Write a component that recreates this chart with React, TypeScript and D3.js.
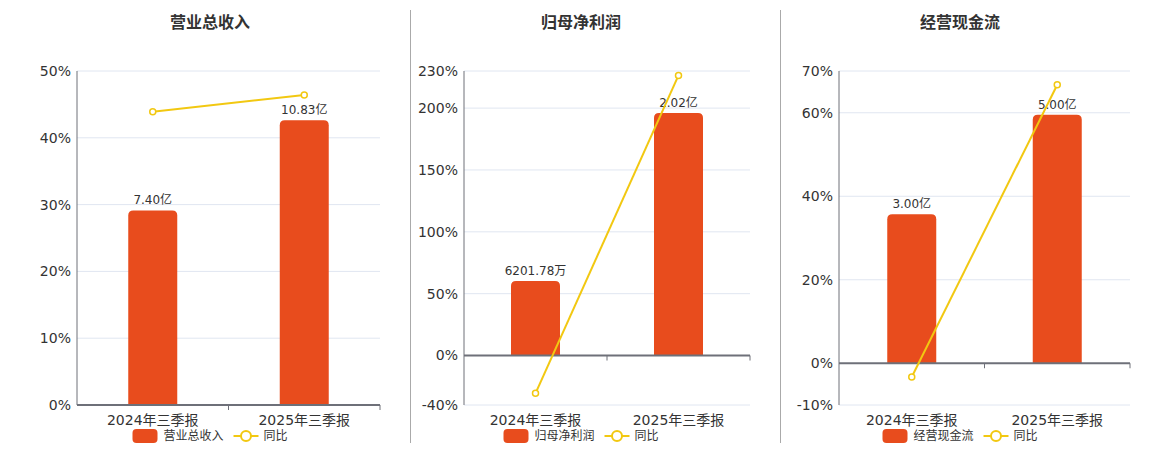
import React from 'react';
import * as d3 from 'd3';

// categories shared by all three panels
const categories = ['2024年三季报', '2025年三季报'];

// 营业总收入 (亿)
const revenueValues = [7.4, 10.83];
const revenueLabels = ['7.40亿', '10.83亿'];
const revenueYoy = [43.9, 46.4];
const revenueTicks = [0, 10, 20, 30, 40, 50];

// 归母净利润 (万)
const profitValues = [6201.78, 20200];
const profitLabels = ['6201.78万', '2.02亿'];
const profitYoy = [-30.6, 226.4];
const profitTicks = [-40, 0, 50, 100, 150, 200, 230];

// 经营现金流 (亿)
const cashValues = [3.0, 5.0];
const cashLabels = ['3.00亿', '5.00亿'];
const cashYoy = [-3.3, 66.7];
const cashTicks = [-10, 0, 20, 40, 60, 70];

const BAR_COLOR = '#E84C1D';
const LINE_COLOR = '#F2C811';
const GRID_COLOR = '#E0E6F1';
const AXIS_COLOR = '#6E7079';
const TEXT_COLOR = '#333';
const FONT = '"DejaVu Sans", "Noto Sans CJK SC", sans-serif';

interface PanelProps {
  title: string;
  values: number[];
  labels: string[];
  yoy: number[];
  ticks: number[];
  barMax: number;
  left: number;
  right: number;
  center: number;
}

const top = 71;
const bottom = 405;
const barWidth = 49;

// bar with rounded top corners
const barPath = (x: number, y: number, w: number, h: number, r: number) => {
  const rr = Math.min(r, h);
  return `M${x},${y + h}V${y + rr}Q${x},${y} ${x + rr},${y}H${x + w - rr}Q${x + w},${y} ${x + w},${y + rr}V${y + h}Z`;
};

const Panel: React.FC<PanelProps> = ({ title, values, labels, yoy, ticks, barMax, left, right, center }) => {
  const y = d3.scaleLinear()
    .domain([ticks[0], ticks[ticks.length - 1]])
    .range([bottom, top]);
  const zeroY = y(0);
  const yBar = d3.scaleLinear().domain([0, barMax]).range([zeroY, top]);
  const x = d3.scaleBand<string>().domain(categories).range([left, right]);
  const cx = (c: string) => (x(c) as number) + x.bandwidth() / 2;

  const line = d3.line<number>()
    .x((_, i) => cx(categories[i]))
    .y(d => y(d));

  const seriesName = title;
  // legend layout
  const nameWidth = seriesName.length * 12;
  const legendWidth = 25 + 6 + nameWidth + 10 + 25 + 5 + 24;
  const lx = center - legendWidth / 2;
  const ly = 436;

  return (
    <g fontFamily={FONT}>
      <text x={center} y={28} textAnchor="middle" fontSize={16} fontWeight="bold" fill={TEXT_COLOR}>{title}</text>

      {ticks.map(t => (
        <g key={t}>
          {t !== 0 && (
            <line x1={left} x2={right} y1={y(t)} y2={y(t)} stroke={GRID_COLOR} strokeWidth={1} />
          )}
          <text x={left - 6} y={y(t)} dy="0.35em" textAnchor="end" fontSize={14} fill={TEXT_COLOR}>{t}%</text>
        </g>
      ))}

      <line x1={left} x2={left} y1={top} y2={bottom} stroke={AXIS_COLOR} strokeWidth={1} />

      {values.map((v, i) => {
        const c = categories[i];
        const yt = yBar(v);
        return (
          <g key={c}>
            <path d={barPath(cx(c) - barWidth / 2, yt, barWidth, zeroY - yt, 5)} fill={BAR_COLOR} />
            <text x={cx(c)} y={yt - 6} textAnchor="middle" fontSize={12} fill={TEXT_COLOR}>{labels[i]}</text>
          </g>
        );
      })}

      <line x1={left} x2={right} y1={zeroY} y2={zeroY} stroke={AXIS_COLOR} strokeWidth={2} />
      {categories.map(c => (
        <line key={c} x1={(x(c) as number) + x.bandwidth()} x2={(x(c) as number) + x.bandwidth()}
          y1={zeroY} y2={zeroY + 5} stroke={AXIS_COLOR} strokeWidth={1} />
      ))}
      {categories.map(c => (
        <text key={c} x={cx(c)} y={425} textAnchor="middle" fontSize={14} fill={TEXT_COLOR}>{c}</text>
      ))}

      <path d={line(yoy) as string} fill="none" stroke={LINE_COLOR} strokeWidth={2} />
      {yoy.map((v, i) => (
        <circle key={i} cx={cx(categories[i])} cy={y(v)} r={3} fill="#fff" stroke={LINE_COLOR} strokeWidth={1.5} />
      ))}

      <g>
        <rect x={lx} y={ly - 7} width={25} height={14} rx={4} fill={BAR_COLOR} />
        <text x={lx + 31} y={ly} dy="0.35em" fontSize={12} fill={TEXT_COLOR}>{seriesName}</text>
        <line x1={lx + 31 + nameWidth + 10} x2={lx + 31 + nameWidth + 35} y1={ly} y2={ly} stroke={LINE_COLOR} strokeWidth={2} />
        <circle cx={lx + 31 + nameWidth + 22.5} cy={ly} r={5} fill="#fff" stroke={LINE_COLOR} strokeWidth={2} />
        <text x={lx + 31 + nameWidth + 40} y={ly} dy="0.35em" fontSize={12} fill={TEXT_COLOR}>同比</text>
      </g>
    </g>
  );
};

const App: React.FC = () => {
  return (
    <svg width={1160} height={450} style={{ position: 'absolute', left: 0, top: 0, background: '#fff' }}>
      <Panel title="营业总收入" values={revenueValues} labels={revenueLabels} yoy={revenueYoy}
        ticks={revenueTicks} barMax={12.7} left={77} right={380} center={210} />
      <Panel title="归母净利润" values={profitValues} labels={profitLabels} yoy={profitYoy}
        ticks={profitTicks} barMax={23700} left={464} right={750} center={581} />
      <Panel title="经营现金流" values={cashValues} labels={cashLabels} yoy={cashYoy}
        ticks={cashTicks} barMax={5.88} left={839} right={1130} center={960} />
      <line x1={410.5} x2={410.5} y1={10} y2={443} stroke="#AAA" strokeWidth={1} />
      <line x1={780.5} x2={780.5} y1={10} y2={443} stroke="#AAA" strokeWidth={1} />
    </svg>
  );
};

export default App;
